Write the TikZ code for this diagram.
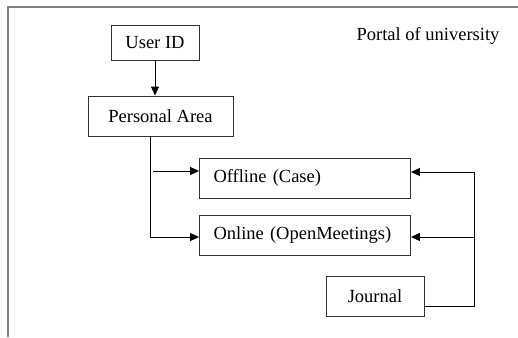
\documentclass[tikz,border=0pt]{standalone}
\usepackage{fontspec}
\setmainfont{Liberation Serif}
\usetikzlibrary{arrows.meta}
\tikzstyle{frame} = [draw=black!50, line width=1.4pt]
\tikzstyle{box} = [rectangle, draw=black!80, line width=0.9pt, minimum height=40pt, text centered, font=\fontsize{18.5}{22}\selectfont]
\tikzstyle{mode} = [box, text width=183pt, inner xsep=14pt, align=left]
\tikzstyle{arrow} = [line width=0.9pt,->,>={Triangle[length=9pt,width=8pt]}]

\begin{document}
\begin{tikzpicture}[x=1pt, y=-1pt, node distance=57pt]
		\useasboundingbox (0,0) rectangle (518,337);
		\draw [frame] (8,337) -- (8,7) -- (518,7);
		\node (title) [font=\rmfamily\fontsize{18.5}{22}\selectfont] at (428,36) {Portal of university};
		\node (uid) [box, minimum width=88pt, minimum height=35pt] at (155,42.5) {User ID};
		\node (pa) [box, minimum width=145pt, below of = uid, xshift = 5.5pt, yshift = -16.5pt] {Personal Area};
		\node (off) [mode, below of = pa, xshift = 144.5pt, yshift = -5pt] {Offline (Case)};
		\node (on) [mode, below of = off] {Online (OpenMeetings)};
		\node (jou) [box, minimum width=98pt, below of = on, xshift = 70pt, yshift = -4pt] {Journal};
		\coordinate (bus) at (474,172);
		\draw [arrow] (uid.south) -- (uid.south |- pa.north);
		\draw [arrow] ([xshift=-10.5pt]pa.south) |- ([yshift=-2pt]on.west);
		\draw [arrow] ([xshift=-46pt, yshift=7pt]off.west) -- ([yshift=7pt]off.west);
		\draw [line width=0.9pt] ([yshift=-10pt]jou.east) -| (bus);
		\draw [arrow] (bus) -- (bus -| off.east);
		\draw [arrow] ([yshift=-2pt]bus |- on.east) -- ([yshift=-2pt]on.east);
	\end{tikzpicture}
\end{document}
